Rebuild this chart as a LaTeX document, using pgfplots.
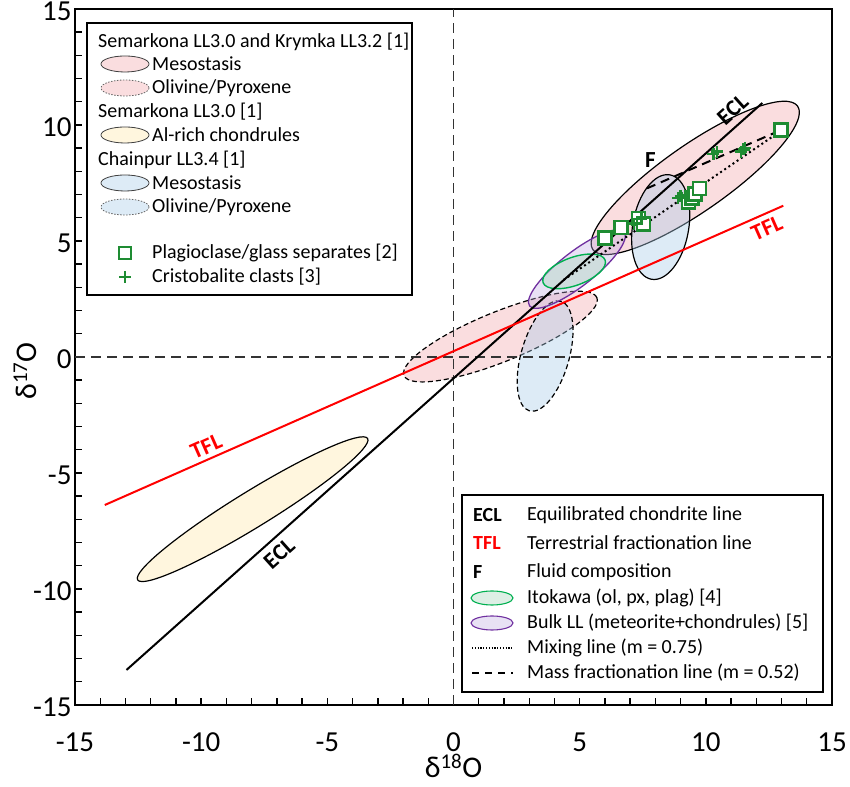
\documentclass[border=0pt]{standalone}
\usepackage{fontspec}
\setmainfont{Carlito}
\usepackage{pgfplots}
\pgfplotsset{compat=1.18}

\definecolor{pinkfill}{RGB}{245,180,185}
\definecolor{bluefill}{RGB}{170,205,232}
\definecolor{creamfill}{RGB}{255,240,200}
\definecolor{purplefill}{RGB}{190,170,225}
\definecolor{greenfill}{RGB}{170,215,190}
\definecolor{purpleline}{RGB}{112,48,160}
\definecolor{itokawa}{RGB}{0,176,80}
\definecolor{markgreen}{RGB}{30,140,50}
\definecolor{tflred}{RGB}{255,0,0}

\newcommand{\lf}{\fontsize{20}{24}\selectfont}
\newcommand{\plotlab}{\bfseries\fontsize{23}{27}\selectfont}

\tikzset{
  solidring/.style={draw=black, line width=1.2pt},
  dashring/.style={draw=black, line width=1.2pt, dash pattern=on 5pt off 3pt},
  keyring/.style={draw=black!75, line width=0.8pt},
  keydash/.style={draw=black!60, line width=0.8pt, dash pattern=on 1.5pt off 1.5pt},
}

\begin{document}
\begin{tikzpicture}
\begin{axis}[
  width=757pt, height=696pt, scale only axis,
  xmin=-15, xmax=15, ymin=-15, ymax=15,
  xtick={-15,-10,...,15}, ytick={-15,-10,...,15},
  xticklabels={-15,-10,-5,0,5,10,15},
  yticklabels={-15,-10,-5,0,5,10,15},
  minor tick num=4,
  tick pos=left, tick align=inside,
  major tick length=7pt, minor tick length=7pt,
  every tick/.style={black, line width=1.4pt},
  axis line style={line width=2.2pt},
  ticklabel style={font=\fontsize{29}{35}\selectfont},
  xticklabel style={anchor=north, yshift=-24pt},
  yticklabel style={yshift=-2pt},
  xlabel={δ\textsuperscript{18}O},
  ylabel={δ\textsuperscript{17}O},
  label style={font=\fontsize{30}{36}\selectfont},
  xlabel style={at={(axis description cs:0.5,-0.087)}, anchor=center},
  ylabel style={at={(axis description cs:-0.066,0.48)}, anchor=center},
]

% oxygen isotope fields (rotation in screen degrees, radii in pt)
% Semarkona + Krymka mesostasis
\draw[solidring, fill=pinkfill, fill opacity=0.45, rotate around={35:(axis cs:9.58,7.72)}]
  (axis cs:9.58,7.72) ellipse [x radius=125pt, y radius=33pt];
% Semarkona + Krymka olivine/pyroxene
\draw[dashring, fill=pinkfill, fill opacity=0.45, rotate around={22:(axis cs:1.86,0.88)}]
  (axis cs:1.86,0.88) ellipse [x radius=104pt, y radius=25pt];
% Chainpur mesostasis
\draw[solidring, fill=bluefill, fill opacity=0.4, rotate around={80:(axis cs:8.21,5.60)}]
  (axis cs:8.21,5.60) ellipse [x radius=53pt, y radius=28pt];
% Chainpur olivine/pyroxene
\draw[dashring, fill=bluefill, fill opacity=0.4, rotate around={74:(axis cs:3.63,0.04)}]
  (axis cs:3.63,0.04) ellipse [x radius=57pt, y radius=24pt];
% Bulk LL
\draw[draw=purpleline, line width=1.3pt, fill=purplefill, fill opacity=0.35, rotate around={38:(axis cs:4.89,3.79)}]
  (axis cs:4.89,3.79) ellipse [x radius=60pt, y radius=17pt];
% Itokawa
\draw[draw=itokawa, line width=1.4pt, fill=greenfill, fill opacity=0.4, rotate around={20:(axis cs:4.78,3.69)}]
  (axis cs:4.78,3.69) ellipse [x radius=33pt, y radius=14pt];
% Semarkona Al-rich chondrules
\draw[solidring, fill=creamfill, fill opacity=0.6, rotate around={31.6:(axis cs:-7.96,-6.56)}]
  (axis cs:-7.96,-6.56) ellipse [x radius=135pt, y radius=18pt];

% zero lines
\addplot[black!80, line width=1.3pt, dash pattern=on 10pt off 6pt] coordinates {(0,-15) (0,15)};
\addplot[black!80, line width=1.3pt, dash pattern=on 10pt off 6pt] coordinates {(-15,0) (15,0)};

% reference lines
\addplot[black, line width=2pt] coordinates {(-12.96,-13.49) (12.24,10.95)};
\addplot[tflred, line width=2pt] coordinates {(-13.82,-6.38) (13.07,6.52)};
% mixing line (m = 0.75)
\addplot[black, line width=2pt, dash pattern=on 2pt off 3pt] coordinates {(4.36,3.32) (13.02,9.78)};
% mass fractionation line (m = 0.52)
\addplot[black, line width=2pt, dash pattern=on 9pt off 6pt] coordinates {(7.67,7.27) (12.83,9.71)};

% plagioclase / glass separates
\addplot[only marks, mark=square*, mark size=6.5pt,
  mark options={draw=markgreen, fill=white, line width=2.5pt}] coordinates {
  (6.01,5.12) (6.63,5.59) (7.33,5.98) (7.53,5.73)
  (9.32,6.69) (9.45,6.85) (9.58,7.02) (9.75,7.27) (12.98,9.78)};
% cristobalite clasts
\addplot[only marks, mark=+, mark size=6pt,
  mark options={draw=markgreen, line width=2.5pt}] coordinates {
  (7.15,5.75) (7.45,5.95)
  (8.90,6.85) (9.00,6.95) (9.05,6.85)
  (10.30,8.75) (10.45,8.85)
  (11.40,8.85) (11.50,8.95) (11.55,9.00)};

% line labels, set beside their lines
\node[rotate=41.8, font=\plotlab, anchor=south, inner sep=7pt] at (axis cs:11.45,10.19) {ECL};
\node[rotate=41.8, font=\plotlab, anchor=north, inner sep=7pt] at (axis cs:-7.3,-8.0) {ECL};
\node[rotate=23.8, font=\plotlab, text=tflred, anchor=north, inner sep=6pt] at (axis cs:12.2,6.10) {TFL};
\node[rotate=23.8, font=\plotlab, text=tflred, anchor=south, inner sep=5pt] at (axis cs:-9.6,-4.36) {TFL};
\node[font=\plotlab] at (axis cs:7.80,8.49) {F};
\end{axis}

% keys, laid out in pt from the picture's top-left corner
\begin{scope}[shift={([xshift=-75pt,yshift=9pt]current axis.north west)}, x=1pt, y=-1pt]
  % upper-left key
  \draw[fill=white, line width=1.5pt] (87,23) rectangle (412,295);
  \node[anchor=west, font=\lf, inner sep=0pt] at (98,42) {Semarkona LL3.0 and Krymka LL3.2 [1]};
  \draw[keyring, fill=pinkfill!45] (125,64) ellipse [x radius=24, y radius=8];
  \node[anchor=west, font=\lf, inner sep=0pt] at (152,64) {Mesostasis};
  \draw[keydash, fill=pinkfill!45] (125,88) ellipse [x radius=24, y radius=8];
  \node[anchor=west, font=\lf, inner sep=0pt] at (152,88) {Olivine/Pyroxene};
  \node[anchor=west, font=\lf, inner sep=0pt] at (98,112) {Semarkona LL3.0 [1]};
  \draw[keyring, fill=creamfill!60] (125,135) ellipse [x radius=24, y radius=8];
  \node[anchor=west, font=\lf, inner sep=0pt] at (152,135) {Al-rich chondrules};
  \node[anchor=west, font=\lf, inner sep=0pt] at (98,160) {Chainpur LL3.4 [1]};
  \draw[keyring, fill=bluefill!40] (125,183) ellipse [x radius=24, y radius=8];
  \node[anchor=west, font=\lf, inner sep=0pt] at (152,183) {Mesostasis};
  \draw[keydash, fill=bluefill!40] (125,207) ellipse [x radius=24, y radius=8];
  \node[anchor=west, font=\lf, inner sep=0pt] at (152,207) {Olivine/Pyroxene};
  \draw[markgreen, line width=2.3pt] (119,247) rectangle (131,259);
  \node[anchor=west, font=\lf, inner sep=0pt] at (152,253) {Plagioclase/glass separates [2]};
  \draw[markgreen, line width=2.3pt] (119,277) -- (131,277) (125,271) -- (125,283);
  \node[anchor=west, font=\lf, inner sep=0pt] at (152,277) {Cristobalite clasts [3]};

  % lower-right key
  \draw[fill=white, line width=1.5pt] (462,495) rectangle (823,692);
  \node[anchor=west, font=\lf\bfseries, inner sep=0pt] at (473,515) {ECL};
  \node[anchor=west, font=\lf, inner sep=0pt] at (527,515) {Equilibrated chondrite line};
  \node[anchor=west, font=\lf\bfseries, inner sep=0pt, text=tflred] at (473,543) {TFL};
  \node[anchor=west, font=\lf, inner sep=0pt] at (527,543) {Terrestrial fractionation line};
  \node[anchor=west, font=\lf\bfseries, inner sep=0pt] at (473,572) {F};
  \node[anchor=west, font=\lf, inner sep=0pt] at (527,572) {Fluid composition};
  \draw[draw=itokawa, line width=1.1pt, fill=greenfill!40] (492,598) ellipse [x radius=21, y radius=7];
  \node[anchor=west, font=\lf, inner sep=0pt] at (527,598) {Itokawa (ol, px, plag) [4]};
  \draw[draw=purpleline, line width=1.1pt, fill=purplefill!35] (492,623) ellipse [x radius=21, y radius=7];
  \node[anchor=west, font=\lf, inner sep=0pt] at (527,623) {Bulk LL (meteorite+chondrules) [5]};
  \draw[black, line width=1.2pt, dash pattern=on 1.2pt off 1.6pt] (472,648) -- (513,648);
  \node[anchor=west, font=\lf, inner sep=0pt] at (527,648) {Mixing line (m = 0.75)};
  \draw[black, line width=1.6pt, dash pattern=on 7pt off 6pt] (472,673) -- (513,673);
  \node[anchor=west, font=\lf, inner sep=0pt] at (527,673) {Mass fractionation line (m = 0.52)};

  \pgfresetboundingbox
  \path[use as bounding box] (0,0) rectangle (850,786);
\end{scope}
\end{tikzpicture}
\end{document}
